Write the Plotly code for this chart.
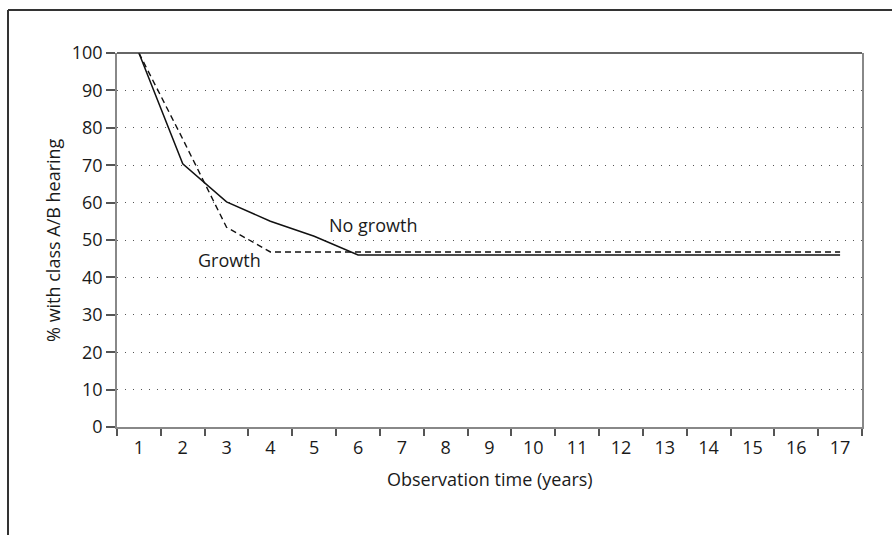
import plotly.graph_objects as go

# Observation years (category axis) and percentages with class A/B hearing
years = [str(y) for y in range(1, 18)]
no_growth = [100, 70.4, 60.2, 55.0, 51.0] + [46.0] * 12
growth = [100, 77.0, 53.4, 46.8, 46.8] + [46.8] * 12

y_ticks = list(range(0, 101, 10))

FONT = "Open Sans"
INK = "#1a1a1a"
FS = 18

fig = go.Figure()

fig.add_trace(go.Scatter(
    x=years, y=no_growth, mode="lines", name="No growth",
    line=dict(color="#111111", width=1.5),
))
fig.add_trace(go.Scatter(
    x=years, y=growth, mode="lines", name="Growth",
    line=dict(color="#111111", width=1.4, dash="6px,4px"),
))

# In-plot series labels
fig.add_annotation(x=5.34, y=54.0, text="No growth", showarrow=False,
                   font=dict(family=FONT, size=FS, color=INK))
fig.add_annotation(x=2.07, y=44.7, text="Growth", showarrow=False,
                   font=dict(family=FONT, size=FS, color=INK))

# Axis titles
fig.add_annotation(xref="paper", yref="paper", x=0.5, y=-0.14,
                   text="Observation time (years)", showarrow=False,
                   xanchor="center", yanchor="middle",
                   font=dict(family=FONT, size=FS, color=INK))
fig.add_annotation(xref="paper", yref="paper", x=-0.086, y=0.5,
                   text="% with class A/B hearing", showarrow=False,
                   textangle=-90, xanchor="center", yanchor="middle",
                   font=dict(family=FONT, size=FS, color=INK))

# Solid top edge of the plot box
fig.add_shape(type="line", xref="paper", yref="paper",
              x0=0, x1=1, y0=1, y1=1, line=dict(color="#333333", width=1.5))

# Outer frame (top and left rules)
fig.add_shape(type="line", xref="paper", yref="paper",
              x0=-0.1463, x1=1.06, y0=1.1150, y1=1.1150,
              line=dict(color="#333333", width=2))
fig.add_shape(type="line", xref="paper", yref="paper",
              x0=-0.1463, x1=-0.1463, y0=1.1150, y1=-0.30,
              line=dict(color="#333333", width=2))

fig.update_layout(
    width=892, height=535,
    margin=dict(l=117, r=30, t=53, b=108),
    paper_bgcolor="white", plot_bgcolor="white",
    showlegend=False,
    font=dict(family=FONT, size=FS, color=INK),
    xaxis=dict(
        type="category", tickson="boundaries", range=[-0.5, 16.5],
        ticks="outside", ticklen=7, tickcolor="#555555", tickwidth=1.5,
        ticklabelstandoff=4,
        showline=True, linecolor="#888888", linewidth=1.5,
        showgrid=False, zeroline=False,
        tickfont=dict(family=FONT, size=FS, color=INK),
    ),
    yaxis=dict(
        range=[0, 100], tickvals=y_ticks,
        ticks="outside", ticklen=9, tickcolor="#555555", tickwidth=1.5,
        showline=True, mirror=True, linecolor="#888888", linewidth=1.5,
        showgrid=True, gridcolor="#555555", gridwidth=1, griddash="1px,7px",
        zeroline=False,
        tickfont=dict(family=FONT, size=FS, color=INK),
    ),
)

fig.write_html("out.html")
